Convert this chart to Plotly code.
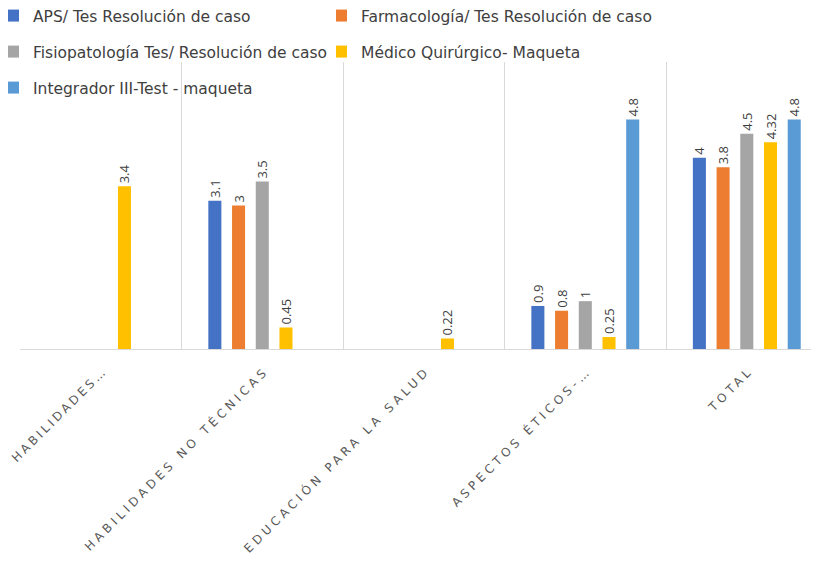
import plotly.graph_objects as go

categories = ["HABILIDADES…", "HABILIDADES NO TÉCNICAS", "EDUCACIÓN PARA LA SALUD",
              "ASPECTOS ÉTICOS-…", "TOTAL"]

series_names = ["APS/ Tes Resolución de caso",
                "Farmacología/ Tes Resolución de caso",
                "Fisiopatología Tes/ Resolución de caso",
                "Médico Quirúrgico- Maqueta",
                "Integrador III-Test - maqueta"]

aps = [None, 3.1, None, 0.9, 4]
farmacologia = [None, 3, None, 0.8, 3.8]
fisiopatologia = [None, 3.5, None, 1, 4.5]
medico = [3.4, 0.45, 0.22, 0.25, 4.32]
integrador = [None, None, None, 4.8, 4.8]

colors = ["#4472C4", "#ED7D31", "#A5A5A5", "#FFC000", "#5B9BD5"]
legend_ids = ["legend", "legend4", "legend2", "legend5", "legend3"]

all_values = [aps, farmacologia, fisiopatologia, medico, integrador]

FONT = "DejaVu Sans"

fig = go.Figure()
for name, vals, col, lg in zip(series_names, all_values, colors, legend_ids):
    fig.add_trace(go.Bar(
        name=name, x=categories, y=vals,
        marker=dict(color=col, line=dict(width=0)),
        text=[("" if v is None else f"{v:g}") for v in vals],
        textposition="outside", textangle=-90, constraintext="none",
        cliponaxis=False,
        textfont=dict(family="Open Sans", size=13, color="#404040"),
        legend=lg,
    ))

leg_common = dict(orientation="h", xanchor="left", yanchor="middle",
                  xref="container", yref="container", indentation=-15,
                  bgcolor="rgba(0,0,0,0)",
                  font=dict(family=FONT, size=15.5, color="#404040"),
                  itemwidth=30)

spacings = [3.0, 3.8, 3.8, 3.8, 3.8]
tick_text = [f'<span style="letter-spacing:{s}px">{c}</span>'
             for c, s in zip(categories, spacings)]

fig.update_layout(
    width=819, height=567,
    margin=dict(l=12, r=8, t=54, b=226, autoexpand=False),
    paper_bgcolor="white", plot_bgcolor="white",
    barmode="group", bargap=0.266, bargroupgap=0.45,
    showlegend=True,
    legend=dict(x=0, y=0.9859, **leg_common),
    legend4=dict(x=0.4005, y=0.9859, **leg_common),
    legend2=dict(x=0, y=0.9224, **leg_common),
    legend5=dict(x=0.4005, y=0.9224, **leg_common),
    legend3=dict(x=0, y=0.8589, **leg_common),
    xaxis=dict(
        type="category", range=[-0.5, 4.447],
        tickson="boundaries", showgrid=True, gridcolor="#D9D9D9", gridwidth=1,
        showline=True, linecolor="#D9D9D9", linewidth=1,
        ticks="", tickangle=-45, automargin=False,
        ticklabelshift=3, ticklabelstandoff=9,
        tickmode="array", tickvals=categories, ticktext=tick_text,
        tickfont=dict(family=FONT, size=12, color="#595959"),
    ),
    yaxis=dict(range=[0, 6], visible=False, showgrid=False, zeroline=False),
)

fig.write_html("out.html")
